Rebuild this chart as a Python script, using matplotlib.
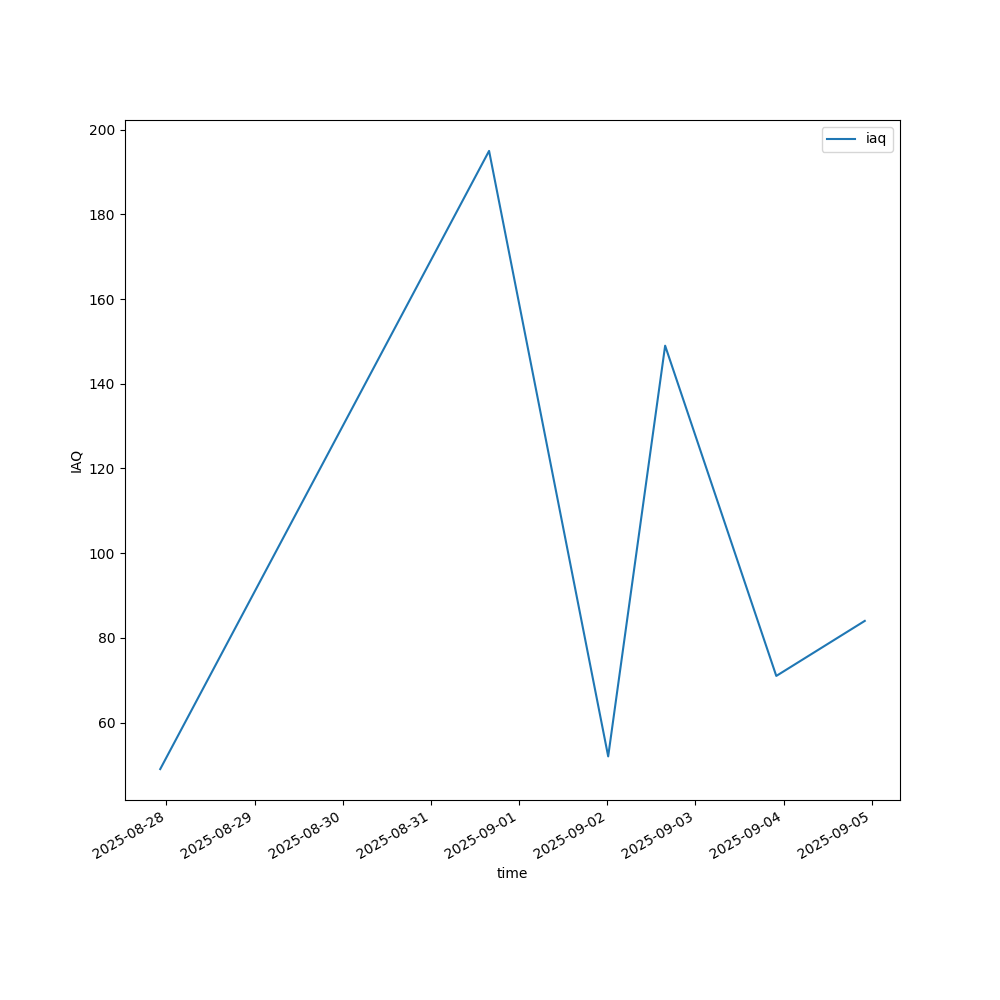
import matplotlib
matplotlib.use("Agg")
import matplotlib.pyplot as plt
import pandas as pd

times = pd.to_datetime([
    "2025-08-27 22:20",
    "2025-08-31 15:50",
    "2025-09-02 00:15",
    "2025-09-02 15:45",
    "2025-09-03 22:00",
    "2025-09-04 22:05",
])
iaq = [49, 195, 52, 149, 71, 84]

fig, ax = plt.subplots(figsize=(10, 10), dpi=100)
ax.plot(times, iaq, label="iaq")
ax.set_xlabel("time")
ax.set_ylabel("IAQ")
ax.legend(loc="upper right")
fig.autofmt_xdate()
fig.savefig("out.png")
